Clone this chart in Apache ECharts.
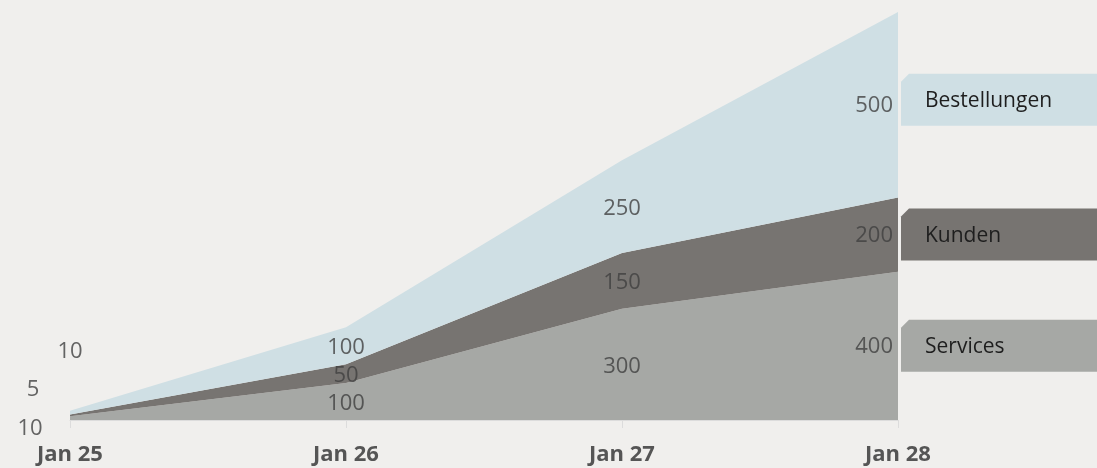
<!DOCTYPE html>
<html><head><meta charset="utf-8">
<script src="https://cdn.jsdelivr.net/npm/echarts@6/dist/echarts.min.js"></script>
<style>html,body{margin:0;padding:0;background:#f0efed;}#c{width:1097px;height:468px;}</style>
</head><body><div id="c"></div>
<script>
const categories = ['Jan 25', 'Jan 26', 'Jan 27', 'Jan 28'];
const seriesNames = ['Services', 'Kunden', 'Bestellungen'];
const services = [10, 100, 300, 400];
const kunden = [5, 50, 150, 200];
const bestellungen = [10, 100, 250, 500];

const values = [services, kunden, bestellungen];
const colors = ['#a6a8a5', '#777471', '#cfdfe4'];
const font = '"Open Sans", "Noto Sans", sans-serif';

// mid value of each band (from cumulative sums of the data)
const mids = values.map((arr, s) => arr.map((v, i) => {
  let base = 0;
  for (let k = 0; k < s; k++) base += values[k][i];
  return base + v / 2;
}));

// pixel nudges for the crowded first category labels
const firstOffsets = [[-40, 11], [-37, -26], [0, -61]];
const tagShift = [0, 0, -5];

const series = [];
values.forEach((arr, s) => {
  series.push({
    name: seriesNames[s], type: 'line', stack: 'total', data: arr,
    symbol: 'none', lineStyle: { width: 0 }, areaStyle: { color: colors[s], opacity: 1 },
    itemStyle: { color: colors[s] }, z: 2
  });
});
values.forEach((arr, s) => {
  series.push({
    type: 'scatter', symbolSize: 0, silent: true, z: 5,
    data: arr.map((v, i) => {
      const item = { value: [i, mids[s][i]], raw: v };
      if (i === 0) item.label = { offset: firstOffsets[s] };
      else if (i === arr.length - 1) item.label = { position: 'left', distance: 5, offset: [0, 1] };
      else item.label = { offset: [0, 2] };
      return item;
    }),
    label: {
      show: true, position: 'inside', color: '#404040', fontFamily: font, fontSize: 22,
      textBorderWidth: 0,
      formatter: p => String(p.data.raw)
    }
  });
});
// end tags with series names
series.push({
  type: 'custom', coordinateSystem: 'cartesian2d', clip: false, silent: true, z: 6,
  data: seriesNames.map((n, s) => [categories.length - 1, mids[s][categories.length - 1], s]),
  renderItem: (params, api) => {
    const p = api.coord([api.value(0), api.value(1)]);
    const s = api.value(2);
    const x = p[0] + 3, y = p[1] + tagShift[s], h = 26, W = 1100;
    return {
      type: 'group',
      children: [
        { type: 'polygon', shape: { points: [[x, y - h + 8], [x + 8, y - h], [W, y - h], [W, y + h], [x, y + h]] },
          style: { fill: colors[s] } },
        { type: 'text', x: x + 24, y: y + 1, style: { text: seriesNames[s], fill: '#1e1e1e', font: '21px ' + font, verticalAlign: 'middle', align: 'left' } }
      ]
    };
  }
});

const chart = echarts.init(document.getElementById('c'));
chart.setOption({
  backgroundColor: '#f0efed',
  animation: false,
  grid: { left: 70, right: 199, top: 12, bottom: 48 },
  xAxis: {
    type: 'category', data: categories, boundaryGap: false,
    axisLine: { lineStyle: { color: '#dcdcdc', width: 1 } },
    axisTick: { show: true, length: 8, lineStyle: { color: '#dcdcdc' } },
    axisLabel: { color: '#555', fontFamily: font, fontWeight: 'bold', fontSize: 22, margin: 24 }
  },
  yAxis: { type: 'value', min: 0, max: 1100, show: false, splitLine: { show: false } },
  series: series
});
</script></body></html>
